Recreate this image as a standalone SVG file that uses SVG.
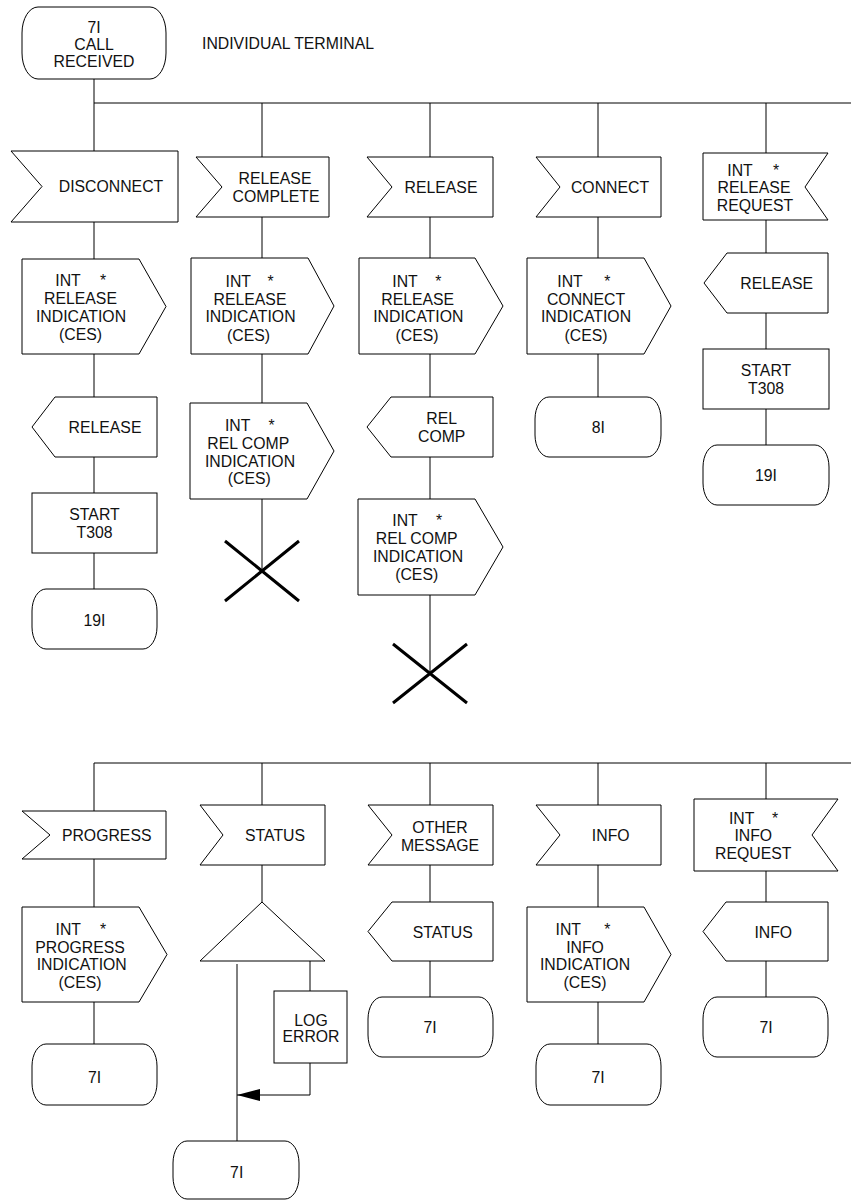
<svg xmlns="http://www.w3.org/2000/svg" width="851" height="1200" viewBox="0 0 851 1200">
<defs>
<style>
.s{fill:#fff;stroke:#000;stroke-width:1}
.c{fill:none;stroke:#000;stroke-width:1}
.x{fill:none;stroke:#000;stroke-width:3}
text{font-family:"Liberation Sans",Arial,sans-serif;font-size:15.8px;fill:#111;text-anchor:middle}
.l{text-anchor:start}
</style>
<marker id="ah" markerWidth="24" markerHeight="12" refX="23" refY="6" orient="auto" markerUnits="userSpaceOnUse">
<path d="M0,0 L23,6 L0,12 Z" fill="#000"/>
</marker>
</defs>
<rect width="851" height="1200" fill="#fff"/>

<g id="connectors">
<path class="c" d="M94,79 V103 H851"/>
<path class="c" d="M94,103 V151 M262,103 V157 M430,103 V157 M598,103 V157 M766,103 V153"/>
<path class="c" d="M94,222 V259 M94,354 V397 M94,457 V493 M94,553 V589"/>
<path class="c" d="M262,217 V258 M262,354 V403 M262,499 V571"/>
<path class="c" d="M430,217 V258 M430,354 V397 M430,457 V499 M430,595 V673"/>
<path class="c" d="M598,217 V258 M598,354 V397"/>
<path class="c" d="M766,220 V253 M766,313 V349 M766,409 V445"/>
<path class="c" d="M94,763 H851"/>
<path class="c" d="M94,763 V811 M262,763 V805 M430,763 V805 M598,763 V805 M766,763 V799"/>
<path class="c" d="M94,859 V907 M94,1002 V1044"/>
<path class="c" d="M262,865 V902 M237,964 V1141 M310,961 V991"/>
<path class="c" d="M310,1063 V1095 H237" marker-end="url(#ah)"/>
<path class="c" d="M430,865 V902 M430,961 V997"/>
<path class="c" d="M598,865 V907 M598,1002 V1044"/>
<path class="c" d="M766,871 V902 M766,961 V997"/>
</g>

<g id="start">
<rect class="s" x="22" y="7" width="144" height="72" rx="16" ry="26"/>
<text x="94" y="32.5">7I</text>
<text x="94" y="49.5">CALL</text>
<text x="94" y="67">RECEIVED</text>
</g>
<text class="l" x="202" y="49">INDIVIDUAL TERMINAL</text>

<!-- column 1 -->
<g id="n_disconnect">
<polygon class="s" points="11,151 178,151 178,222 11,222 42,186.5"/>
<text x="111" y="192">DISCONNECT</text>
</g>
<g id="n_c1_relind">
<polygon class="s" points="22,259 139,259 166,306.5 139,354 22,354"/>
<text x="68" y="285.5">INT</text><text x="103" y="285.5">*</text>
<text x="80.5" y="303.7">RELEASE</text>
<text x="81" y="321.9">INDICATION</text>
<text x="80.5" y="340.3">(CES)</text>
</g>
<g id="n_c1_release">
<polygon class="s" points="55,397 157,397 157,457 55,457 32,427"/>
<text x="105" y="432.5">RELEASE</text>
</g>
<g id="n_c1_start">
<rect class="s" x="32" y="493" width="125" height="60"/>
<text x="94.5" y="519.5">START</text>
<text x="94.5" y="537.8">T308</text>
</g>
<g id="n_c1_19">
<rect class="s" x="32" y="589" width="125" height="60" rx="14" ry="22"/>
<text x="94.5" y="625.5">19I</text>
</g>

<!-- column 2 -->
<g id="n_relcomplete">
<polygon class="s" points="196,157 329,157 329,217 196,217 222,187"/>
<text x="275" y="184">RELEASE</text>
<text x="276" y="201.5">COMPLETE</text>
</g>
<g id="n_c2_relind">
<polygon class="s" points="191,258 308,258 334,306 308,354 191,354"/>
<text x="238.3" y="287">INT</text><text x="270.7" y="287">*</text>
<text x="250" y="304.5">RELEASE</text>
<text x="250.5" y="322.3">INDICATION</text>
<text x="248.5" y="340.5">(CES)</text>
</g>
<g id="n_c2_relcompind">
<polygon class="s" points="190,403 307,403 334,451 307,499 190,499"/>
<text x="237.7" y="430.5">INT</text><text x="271.7" y="430.5">*</text>
<text x="248.3" y="448.8">REL COMP</text>
<text x="250" y="466.7">INDICATION</text>
<text x="249.3" y="484.2">(CES)</text>
</g>
<g id="n_c2_stop">
<path class="x" d="M225,541 L299,601 M299,541 L225,601"/>
</g>

<!-- column 3 -->
<g id="n_release_in">
<polygon class="s" points="367,157 493,157 493,217 367,217 392,187"/>
<text x="441" y="193">RELEASE</text>
</g>
<g id="n_c3_relind">
<polygon class="s" points="359,258 475,258 503,306 475,354 359,354"/>
<text x="405" y="287">INT</text><text x="438.3" y="287">*</text>
<text x="417.7" y="304.5">RELEASE</text>
<text x="418.3" y="322.3">INDICATION</text>
<text x="417" y="340.5">(CES)</text>
</g>
<g id="n_c3_relcomp">
<polygon class="s" points="391,397 493,397 493,457 391,457 367,427"/>
<text x="441.7" y="423.5">REL</text>
<text x="441.7" y="441.5">COMP</text>
</g>
<g id="n_c3_relcompind">
<polygon class="s" points="358,499 475,499 503,547 475,595 358,595"/>
<text x="405" y="525.5">INT</text><text x="439" y="525.5">*</text>
<text x="416.7" y="543.8">REL COMP</text>
<text x="418" y="562">INDICATION</text>
<text x="416.7" y="580">(CES)</text>
</g>
<g id="n_c3_stop">
<path class="x" d="M393,644 L467,703 M467,644 L393,703"/>
</g>

<!-- column 4 -->
<g id="n_connect">
<polygon class="s" points="536,157 661,157 661,217 536,217 560,187"/>
<text x="610" y="193">CONNECT</text>
</g>
<g id="n_c4_conind">
<polygon class="s" points="527,258 644,258 671,306 644,354 527,354"/>
<text x="570" y="287">INT</text><text x="607.3" y="287">*</text>
<text x="586" y="304.5">CONNECT</text>
<text x="586" y="322.3">INDICATION</text>
<text x="586" y="340.5">(CES)</text>
</g>
<g id="n_c4_8">
<rect class="s" x="535" y="397" width="126" height="60" rx="14" ry="22"/>
<text x="598.3" y="433">8I</text>
</g>

<!-- column 5 -->
<g id="n_relreq">
<polygon class="s" points="703,153 828,153 805,187 828,220 703,220"/>
<text x="740" y="175.5">INT</text><text x="776" y="175.5">*</text>
<text x="754" y="193">RELEASE</text>
<text x="755" y="210.5">REQUEST</text>
</g>
<g id="n_c5_release">
<polygon class="s" points="727,253 828,253 828,313 727,313 704,283"/>
<text x="776.7" y="289">RELEASE</text>
</g>
<g id="n_c5_start">
<rect class="s" x="703" y="349" width="126" height="60"/>
<text x="766" y="375.5">START</text>
<text x="766" y="393.5">T308</text>
</g>
<g id="n_c5_19">
<rect class="s" x="703" y="445" width="126" height="60" rx="14" ry="22"/>
<text x="766" y="481">19I</text>
</g>

<!-- bottom column 1 -->
<g id="n_progress">
<polygon class="s" points="22,811 166,811 166,859 22,859 50,835"/>
<text x="106.7" y="841">PROGRESS</text>
</g>
<g id="n_progind">
<polygon class="s" points="22,907 139,907 167,954.5 139,1002 22,1002"/>
<text x="68.3" y="935">INT</text><text x="103" y="935">*</text>
<text x="80" y="952.5">PROGRESS</text>
<text x="81.7" y="970">INDICATION</text>
<text x="80" y="988">(CES)</text>
</g>
<g id="n_b1_7">
<rect class="s" x="32" y="1044" width="125" height="61" rx="14" ry="22"/>
<text x="94.5" y="1083">7I</text>
</g>

<!-- bottom column 2 -->
<g id="n_status_in">
<polygon class="s" points="200,805 325,805 325,865 200,865 223,835"/>
<text x="275" y="841">STATUS</text>
</g>
<g id="n_decision">
<polygon class="s" points="262,902 325,961 200,961"/>
</g>
<g id="n_logerror">
<rect class="s" x="274" y="991" width="73" height="72"/>
<text x="311" y="1025.5">LOG</text>
<text x="311" y="1042">ERROR</text>
</g>
<g id="n_b2_7">
<rect class="s" x="173" y="1141" width="126" height="58" rx="14" ry="22"/>
<text x="236.7" y="1178">7I</text>
</g>

<!-- bottom column 3 -->
<g id="n_other">
<polygon class="s" points="368,805 493,805 493,865 368,865 392,835"/>
<text x="440" y="833">OTHER</text>
<text x="440" y="850.5">MESSAGE</text>
</g>
<g id="n_status_out">
<polygon class="s" points="392,902 493,902 493,961 392,961 368,931.5"/>
<text x="442.7" y="938">STATUS</text>
</g>
<g id="n_b3_7">
<rect class="s" x="368" y="997" width="125" height="60" rx="14" ry="22"/>
<text x="430" y="1032.5">7I</text>
</g>

<!-- bottom column 4 -->
<g id="n_info_in">
<polygon class="s" points="536,805 661,805 661,865 536,865 560,835"/>
<text x="610.7" y="841">INFO</text>
</g>
<g id="n_infoind">
<polygon class="s" points="527,907 644,907 671,954.5 644,1002 527,1002"/>
<text x="568.3" y="935">INT</text><text x="607.3" y="935">*</text>
<text x="585" y="952.5">INFO</text>
<text x="585" y="970">INDICATION</text>
<text x="585" y="988">(CES)</text>
</g>
<g id="n_b4_7">
<rect class="s" x="536" y="1044" width="125" height="61" rx="14" ry="22"/>
<text x="598" y="1083">7I</text>
</g>

<!-- bottom column 5 -->
<g id="n_inforeq">
<polygon class="s" points="694,799 838,799 812,835 838,871 694,871"/>
<text x="741.7" y="824">INT</text><text x="775" y="824">*</text>
<text x="753.3" y="841.3">INFO</text>
<text x="753.3" y="859">REQUEST</text>
</g>
<g id="n_info_out">
<polygon class="s" points="726,902 828,902 828,961 726,961 703,931.5"/>
<text x="773.3" y="938">INFO</text>
</g>
<g id="n_b5_7">
<rect class="s" x="703" y="997" width="125" height="60" rx="14" ry="22"/>
<text x="766" y="1032.5">7I</text>
</g>
</svg>
